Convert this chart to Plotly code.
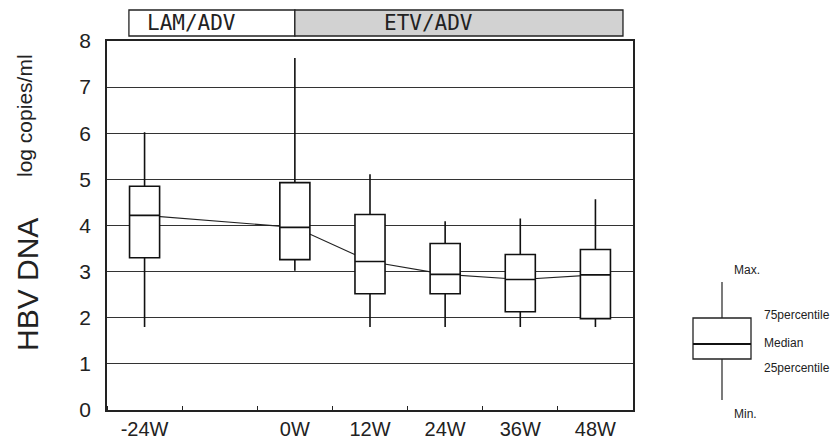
import plotly.graph_objects as go

# ---- data ----
week_labels = ["-24W", "0W", "12W", "24W", "36W", "48W"]
weeks = [-24, 0, 12, 24, 36, 48]
max_vals = [6.02, 7.63, 5.11, 4.09, 4.15, 4.57]
q3_vals = [4.85, 4.93, 4.24, 3.61, 3.37, 3.48]
median_vals = [4.22, 3.96, 3.22, 2.94, 2.83, 2.93]
q1_vals = [3.30, 3.26, 2.52, 2.52, 2.13, 1.98]
min_vals = [1.80, 3.02, 1.80, 1.80, 1.80, 1.80]
y_ticks = [0, 1, 2, 3, 4, 5, 6, 7, 8]
phases = ["LAM/ADV", "ETV/ADV"]

W, H = 833, 441
L, R, T, B = 107, 200, 41, 31
PW, PH = W - L - R, H - T - B
XR = [-30, 54]

def px_x(p):
    return (p - L) / PW

def px_y(p):
    return (H - B - p) / PH

FONT = "Liberation Sans, Arial, sans-serif"
MONO = "DejaVu Sans Mono, Liberation Mono, monospace"

fig = go.Figure()

# median connecting line (behind boxes)
fig.add_trace(go.Scatter(x=weeks, y=median_vals, mode="lines",
                         line=dict(color="#222", width=1.1),
                         showlegend=False, hoverinfo="skip",
                         xaxis="x", yaxis="y"))

# boxes on overlay axes so they sit above the line
fig.add_trace(go.Box(x=weeks, q1=q1_vals, median=median_vals, q3=q3_vals,
                     lowerfence=min_vals, upperfence=max_vals,
                     width=4.8, whiskerwidth=0, fillcolor="white",
                     line=dict(color="#111", width=1.6),
                     boxpoints=False, showlegend=False,
                     xaxis="x2", yaxis="y2"))

shapes = []
annotations = []

# treatment phase headers
hy0, hy1 = px_y(36), px_y(10)
shapes.append(dict(type="rect", xref="x", yref="paper", x0=-26.5, x1=0,
                   y0=hy0, y1=hy1, fillcolor="white",
                   line=dict(color="#222", width=1.3)))
shapes.append(dict(type="rect", xref="x", yref="paper", x0=0, x1=52.4,
                   y0=hy0, y1=hy1, fillcolor="#d2d2d2",
                   line=dict(color="#222", width=1.3)))
for txt, cx in zip(phases, [191, 428]):
    annotations.append(dict(text=txt, xref="paper", yref="paper",
                            x=px_x(cx), y=(hy0 + hy1) / 2,
                            xanchor="center", yanchor="middle", showarrow=False,
                            font=dict(family=MONO, size=21, color="#222")))

# y axis titles
annotations.append(dict(text="HBV DNA", xref="paper", yref="paper",
                        x=px_x(27), y=px_y(285), xanchor="center", yanchor="middle",
                        showarrow=False, textangle=-90,
                        font=dict(family=FONT, size=30, color="#222")))
annotations.append(dict(text="log copies/ml", xref="paper", yref="paper",
                        x=px_x(24), y=px_y(116), xanchor="center", yanchor="middle",
                        showarrow=False, textangle=-90,
                        font=dict(family=FONT, size=21, color="#222")))

# legend key (schematic box)
kx0, kx1, kxm = px_x(693), px_x(751), px_x(722)
shapes.append(dict(type="line", xref="paper", yref="paper", x0=kxm, x1=kxm,
                   y0=px_y(282), y1=px_y(318), line=dict(color="#222", width=1.2)))
shapes.append(dict(type="line", xref="paper", yref="paper", x0=kxm, x1=kxm,
                   y0=px_y(359), y1=px_y(400), line=dict(color="#222", width=1.2)))
shapes.append(dict(type="rect", xref="paper", yref="paper", x0=kx0, x1=kx1,
                   y0=px_y(359), y1=px_y(318), fillcolor="white",
                   line=dict(color="#222", width=1.3)))
shapes.append(dict(type="line", xref="paper", yref="paper", x0=kx0, x1=kx1,
                   y0=px_y(344), y1=px_y(344), line=dict(color="#111", width=2)))
key_labels = [("Max.", 732, 270), ("75percentile", 762, 315), ("Median", 762, 343),
              ("25percentile", 762, 368), ("Min.", 732, 414)]
for txt, lx, ly in key_labels:
    annotations.append(dict(text=txt, xref="paper", yref="paper", x=px_x(lx), y=px_y(ly),
                            xanchor="left", yanchor="middle", showarrow=False,
                            font=dict(family=FONT, size=12, color="#222")))

fig.update_layout(
    width=W, height=H,
    margin=dict(l=L, r=R, t=T, b=B, pad=0, autoexpand=False),
    paper_bgcolor="white", plot_bgcolor="white",
    showlegend=False,
    xaxis=dict(range=XR, tickmode="array", tickvals=weeks, ticktext=week_labels,
               ticks="", showgrid=False, zeroline=False, automargin=False,
               showline=True, mirror=True, linecolor="#222", linewidth=1.5,
               tickfont=dict(family=FONT, size=20, color="#222"),
               minor=dict(tickmode="linear", tick0=-18, dtick=12, ticks="inside",
                          ticklen=4, tickcolor="#222", tickwidth=1, showgrid=False)),
    yaxis=dict(range=[0, 8], tickmode="array", tickvals=y_ticks,
               ticks="", showgrid=True, gridcolor="#333", gridwidth=1,
               zeroline=False, showline=True, mirror=True, linecolor="#222",
               linewidth=1.5, ticklabelstandoff=10, automargin=False,
               tickfont=dict(family=FONT, size=21, color="#222")),
    xaxis2=dict(range=XR, overlaying="x", visible=False),
    yaxis2=dict(range=[0, 8], overlaying="y", visible=False),
    shapes=shapes, annotations=annotations,
)

fig.write_html("out.html")
